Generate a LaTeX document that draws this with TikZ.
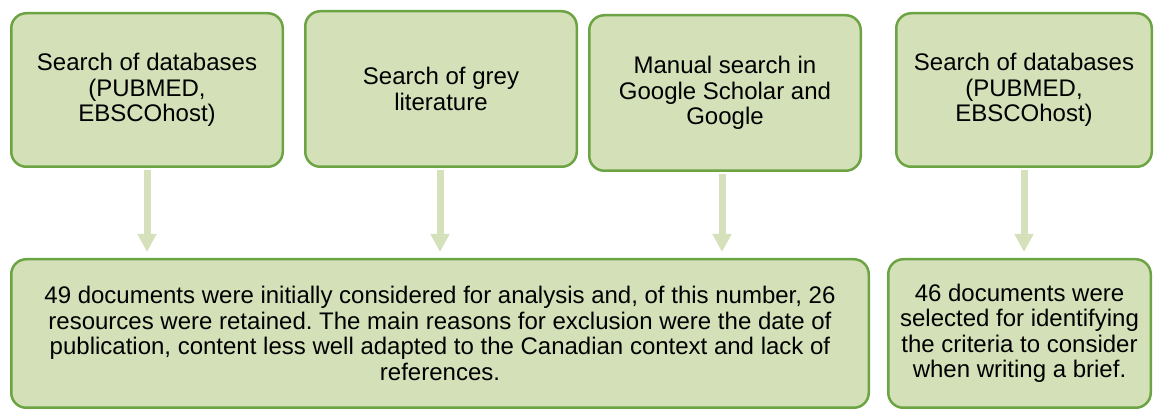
\documentclass[tikz,border=0pt]{standalone}
\usepackage{fontspec}
\setmainfont{Liberation Sans}
\usetikzlibrary{arrows.meta}
\frenchspacing
\definecolor{boxfill}{RGB}{211,224,184}
\definecolor{boxline}{RGB}{108,164,68}
\definecolor{arrfill}{RGB}{212,225,186}
\tikzset{
  box/.style={draw=boxline, fill=boxfill, line width=2.5pt, rounded corners=15pt,
    inner sep=0pt, align=center, font=\fontsize{24pt}{25.5pt}\selectfont\frenchspacing},
  conn/.style={draw=arrfill, line width=7pt, -{Triangle[width=18pt,length=18pt]},
    shorten <=2pt, shorten >=6pt}
}
\begin{document}
\begin{tikzpicture}[x=1pt,y=-1pt]
\useasboundingbox (0,0) rectangle (1154,411);
\node[box, minimum width=271.5pt, minimum height=153.5pt] (b1) at (147,90)
  {Search of databases\\(PUBMED,\\EBSCOhost)};
\node[box, minimum width=271.5pt, minimum height=155.5pt] (b2) at (441,89)
  {Search of grey\\literature};
\node[box, minimum width=271.5pt, minimum height=155.5pt] (b3) at (725,93)
  {Manual search in\\Google Scholar and\\Google};
\node[box, minimum width=255.5pt, minimum height=153.5pt] (b4) at (1024,90)
  {Search of databases\\(PUBMED,\\EBSCOhost)};
\node[box, minimum width=857.5pt, minimum height=148.5pt] (c1) at (440,333.5)
  {49 documents were initially considered for analysis and, of this number, 26\\
   resources were retained. The main reasons for exclusion were the date of\\
   publication, content less well adapted to the Canadian context and lack of\\
   references.};
\node[box, minimum width=262.5pt, minimum height=148.5pt] (c2) at (1019.5,333.5)
  {46 documents were\\selected for identifying\\the criteria to consider\\when writing a brief.};
\draw[conn] (b1.south) -- (b1.south |- c1.north);
\draw[conn] ([xshift=-1pt]b2.south) -- ([xshift=-1pt]b2.south |- c1.north);
\draw[conn] ([xshift=-3pt]b3.south) -- ([xshift=-3pt]b3.south |- c1.north);
\draw[conn] (b4.south) -- (b4.south |- c2.north);
\end{tikzpicture}
\end{document}
